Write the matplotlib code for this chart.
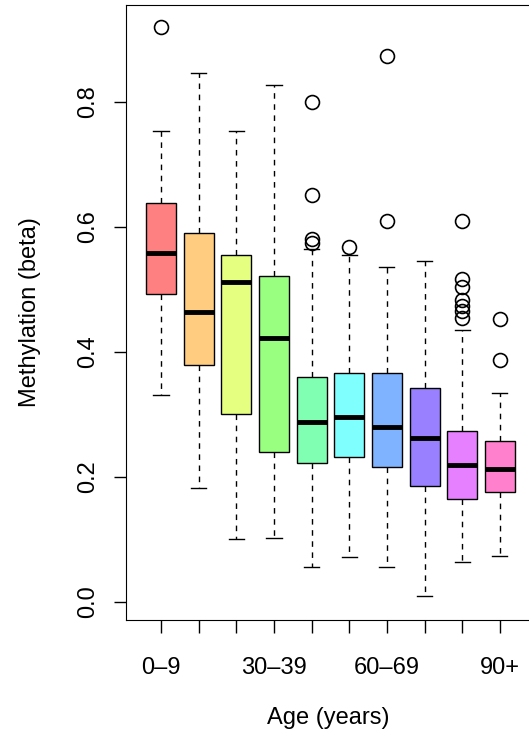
import matplotlib
matplotlib.use('Agg')
import matplotlib.pyplot as plt
import colorsys

plt.rcParams['font.family'] = ['Liberation Sans', 'DejaVu Sans']

labels = ['0–9', '10–19', '20–29', '30–39', '40–49', '50–59', '60–69', '70–79', '80–89', '90+']
shown = ['0–9', '', '', '30–39', '', '', '60–69', '', '', '90+']
whislo = [0.331, 0.182, 0.101, 0.102, 0.056, 0.072, 0.056, 0.010, 0.064, 0.074]
q1 = [0.493, 0.379, 0.301, 0.240, 0.222, 0.232, 0.216, 0.186, 0.165, 0.176]
med = [0.558, 0.464, 0.512, 0.422, 0.288, 0.296, 0.280, 0.262, 0.219, 0.213]
q3 = [0.638, 0.590, 0.555, 0.522, 0.360, 0.366, 0.366, 0.342, 0.274, 0.258]
whishi = [0.754, 0.846, 0.754, 0.827, 0.565, 0.555, 0.536, 0.546, 0.435, 0.335]
fliers = [[0.92], [], [], [], [0.80, 0.651, 0.58, 0.575], [0.568], [0.874, 0.61], [],
          [0.61, 0.517, 0.504, 0.483, 0.474, 0.466, 0.455], [0.453, 0.387]]

stats = []
for i in range(len(labels)):
    stats.append(dict(whislo=whislo[i], q1=q1[i], med=med[i], q3=q3[i],
                      whishi=whishi[i], fliers=fliers[i], label=shown[i]))

# R rainbow(10, alpha=0.5) on white
cols = []
for i in range(10):
    r, g, b = colorsys.hsv_to_rgb(i / 10, 1, 1)
    cols.append((0.5 + r / 2, 0.5 + g / 2, 0.5 + b / 2))

fig = plt.figure(figsize=(5.29, 7.37), dpi=100)
ax = fig.add_axes([126 / 529, 117 / 737, 1 - 126 / 529 + 0.002, 615 / 737])

bp = ax.bxp(stats, positions=range(1, 11), widths=0.8, patch_artist=True,
            medianprops=dict(color='black', linewidth=3.5),
            whiskerprops=dict(color='black', linestyle=(0, (4, 4)), linewidth=1),
            capprops=dict(color='black', linewidth=1), capwidths=0.4,
            boxprops=dict(edgecolor='black', linewidth=1),
            flierprops=dict(marker='o', markerfacecolor='none', markeredgecolor='black',
                            markersize=10, markeredgewidth=1.2))
for p, c in zip(bp['boxes'], cols):
    p.set_facecolor(c)

ax.set_xlim(0.07, 10.8)
ax.set_ylim(-0.029, 0.955)
ax.set_yticks([0.0, 0.2, 0.4, 0.6, 0.8])
ax.set_yticklabels(['0.0', '0.2', '0.4', '0.6', '0.8'], rotation=90, va='center')
ax.tick_params(labelsize=17, length=9, width=1)
ax.tick_params(axis='x', pad=18)
ax.tick_params(axis='y', pad=10)
ax.set_xlabel('Age (years)', fontsize=17, labelpad=20)
ax.set_ylabel('Methylation (beta)', fontsize=17, labelpad=26)
ax.spines['right'].set_visible(False)

fig.savefig('out.png', dpi=100)
